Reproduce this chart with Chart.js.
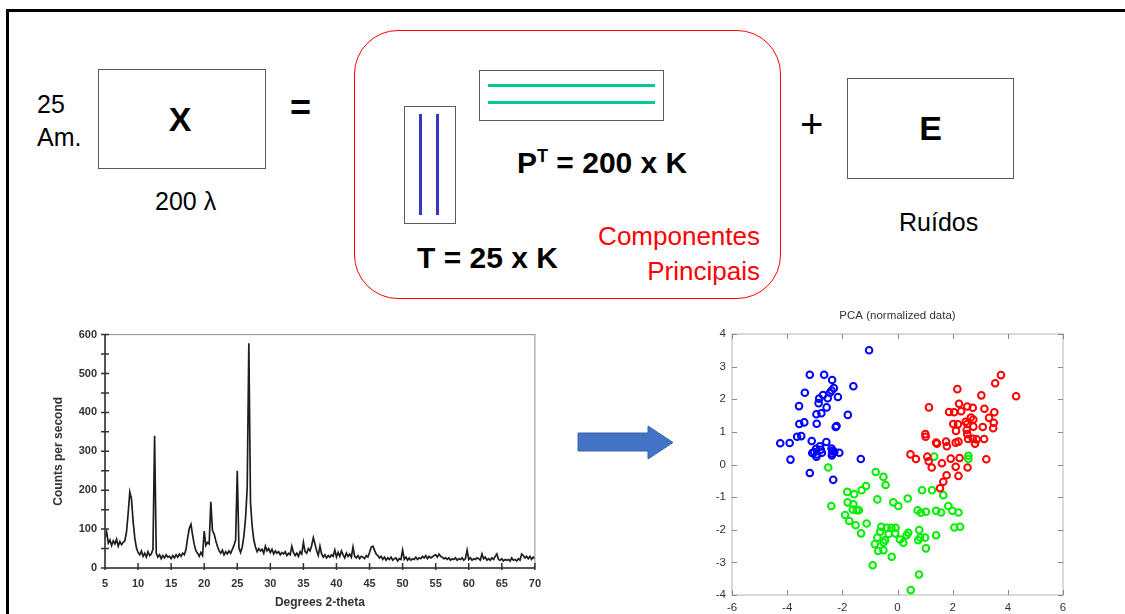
<!DOCTYPE html>
<html lang="pt">
<head>
<meta charset="utf-8">
<title>PCA - decomposição X = T·Pᵀ + E</title>
<script src="https://cdn.jsdelivr.net/npm/chart.js@4.4.1/dist/chart.umd.min.js"></script>
<style>
    html, body { margin: 0; padding: 0; background: #fff; }
    body { width: 1125px; height: 614px; position: relative; overflow: hidden; font-family: "Liberation Sans", Arial, sans-serif; color: #000; }
    .frame { position: absolute; left: 6px; top: 9px; width: 1200px; height: 700px; border-left: 3px solid #000; border-top: 3px solid #000; }
    .t { position: absolute; line-height: 1; white-space: nowrap; }
    .b { font-weight: bold; }
    .box { position: absolute; border: 1.5px solid #5a5a5a; box-sizing: border-box; display: flex; align-items: center; justify-content: center; }
    .pc { position: absolute; left: 354px; top: 30px; width: 427px; height: 269px; border: 1.6px solid #ff0000; border-radius: 44px; box-sizing: border-box; }
    .bar { position: absolute; }
    .sup { font-size: 18px; position: relative; top: -11px; }
    .red { color: #ff0000; }
    canvas { position: absolute; }
</style>
</head>
<body>
<div class="frame"></div>

<!-- X = T . P' + E -->
<div class="t" style="left:37px;top:92px;font-size:25px">25</div>
<div class="t" style="left:37px;top:125px;font-size:25px">Am.</div>
<div class="box" style="left:98px;top:69px;width:168px;height:100px"><span class="b" style="font-size:34px;margin-left:-4px">X</span></div>
<div class="t" style="left:155px;top:189px;font-size:25px">200 λ</div>
<div class="t b" style="left:290px;top:90px;font-size:36px">=</div>

<div class="pc"></div>
<div class="box" style="left:404px;top:106px;width:52px;height:118px"></div>
<div class="bar" style="left:419px;top:114px;width:3px;height:101px;background:#3535c8"></div>
<div class="bar" style="left:436px;top:114px;width:3px;height:101px;background:#3535c8"></div>
<div class="box" style="left:479px;top:70px;width:185px;height:51px"></div>
<div class="bar" style="left:488px;top:84px;width:167px;height:3px;background:#00c896"></div>
<div class="bar" style="left:488px;top:101px;width:167px;height:3px;background:#00c896"></div>
<div class="t b" style="left:517px;top:148px;font-size:30px">P<span class="sup">T</span> = 200 x K</div>
<div class="t b" style="left:417px;top:243px;font-size:30px">T = 25 x K</div>
<div class="t red" style="right:365px;top:223px;font-size:26px;text-align:right">Componentes</div>
<div class="t red" style="right:365px;top:258px;font-size:26px;text-align:right">Principais</div>

<div class="t" style="left:800px;top:104px;font-size:40px">+</div>
<div class="box" style="left:847px;top:78px;width:167px;height:101px"><span class="b" style="font-size:34px">E</span></div>
<div class="t" style="left:899px;top:210px;font-size:25px">Ruídos</div>

<svg width="1125" height="614" style="position:absolute;left:0;top:0">
    <polygon points="578,433 648,433 648,426 673,442.5 648,459 648,451 578,451" fill="#4472c4" stroke="#3a62a8" stroke-width="1"/>
</svg>

<canvas id="xrd" width="530" height="294" style="left:20px;top:320px"></canvas>
<canvas id="pca" width="435" height="314" style="left:690px;top:300px"></canvas>

<script>
"use strict";

// ===========================
// Data: XRD pattern (counts per second, every 0.25 deg from 5 to 70)
// ===========================
const angleStart = 5;
const angleStep = 0.25;
const counts = [
    78, 92, 64, 72,     58, 70, 62, 74,     56, 68, 60, 66,     70, 92, 140, 195,   // 5-8
    178, 120, 78, 52,   40, 34, 44, 30,     38, 28, 42, 32,     36, 48, 340, 38,    // 9-12
    28, 34, 24, 32,     26, 34, 28, 30,     24, 32, 26, 34,     28, 36, 30, 38,     // 13-16
    34, 48, 78, 102,    112, 84, 60, 44,    38, 30, 40, 32,     95, 58, 66, 62,     // 17-20
    170, 96, 88, 70,    56, 44, 38, 46,     34, 42, 36, 44,     38, 48, 58, 72,     // 21-24
    250, 52, 40, 54,    82, 128, 205, 578,  168, 108, 72, 54,   42, 50, 44, 48,     // 25-28
    38, 56, 44, 50,     40, 48, 36, 44,     38, 42, 34, 40,     36, 42, 32, 38,     // 29-32
    34, 56, 40, 32,     38, 30, 42, 36,     66, 42, 38, 50,     44, 58, 78, 62,     // 33-36
    44, 32, 56, 36,     28, 34, 26, 32,     28, 34, 30, 46,     28, 40, 30, 44,     // 37-40
    34, 26, 38, 30,     36, 28, 54, 30,     26, 32, 24, 30,     28, 24, 32, 28,     // 41-44
    40, 54, 56, 46,     36, 32, 26, 30,     22, 28, 20, 26,     22, 28, 20, 24,     // 45-48
    26, 18, 24, 22,     46, 22, 28, 20,     26, 20, 24, 22,     28, 22, 26, 24,     // 49-52
    30, 26, 32, 24,     30, 26, 28, 32,     34, 28, 36, 30,     28, 24, 26, 22,     // 53-56
    26, 20, 24, 22,     26, 20, 24, 22,     26, 20, 24, 46,     22, 26, 20, 24,     // 57-60
    22, 26, 24, 20,     36, 24, 28, 20,     24, 20, 26, 22,     30, 36, 22, 20,     // 61-64
    24, 18, 22, 20,     22, 18, 26, 20,     22, 18, 24, 20,     36, 32, 26, 30,     // 65-68
    24, 30, 22, 28,     24                                                          // 69-70
];

// ===========================
// Data: PCA scores (PC1, PC2) per class
// ===========================
const blueScores = [
    [-1.03, 3.50], [-3.18, 2.75], [-2.66, 2.75], [-2.37, 2.59], [-2.31, 2.34], [-2.39, 2.27],
    [-2.45, 2.20], [-1.60, 2.40], [-3.36, 2.20], [-2.70, 2.13], [-2.84, 2.02], [-2.53, 2.03],
    [-2.16, 2.07], [-2.86, 1.88], [-3.57, 1.79], [-2.57, 1.75], [-2.94, 1.54], [-2.76, 1.57],
    [-1.80, 1.52], [-3.56, 1.24], [-3.38, 1.29], [-2.93, 1.25], [-2.21, 1.18], [-2.24, 1.15],
    [-3.64, 0.85], [-3.49, 0.87], [-4.25, 0.65], [-3.91, 0.66], [-3.11, 0.72], [-2.58, 0.69],
    [-2.81, 0.56], [-2.95, 0.48], [-2.39, 0.49], [-2.36, 0.42], [-3.09, 0.35], [-2.92, 0.31],
    [-2.74, 0.36], [-2.36, 0.34], [-2.11, 0.36], [-2.29, 0.39], [-2.94, 0.24], [-2.38, 0.28],
    [-3.88, 0.15], [-1.33, 0.17], [-3.18, -0.26], [-2.33, -0.47], [-2.78, 0.45], [-3.02, 0.38]
];
const redScores = [
    [3.75, 2.74], [3.54, 2.49], [2.17, 2.31], [4.30, 2.09], [3.04, 2.12], [1.14, 1.75],
    [2.23, 1.86], [2.53, 1.78], [2.73, 1.74], [2.31, 1.63], [1.87, 1.61], [2.05, 1.60],
    [3.15, 1.71], [3.51, 1.60], [2.66, 1.44], [2.75, 1.38], [3.32, 1.43], [3.49, 1.28],
    [2.02, 1.24], [2.19, 1.23], [2.47, 1.31], [2.53, 1.24], [2.75, 1.16], [3.09, 1.15],
    [3.47, 1.11], [2.12, 1.03], [2.51, 1.06], [1.01, 0.93], [1.02, 0.85], [2.53, 0.93],
    [2.56, 0.78], [2.73, 0.79], [2.87, 0.77], [3.14, 0.78], [2.81, 0.64], [1.40, 0.67],
    [1.43, 0.64], [1.76, 0.70], [1.79, 0.56], [2.11, 0.67], [2.21, 0.70], [0.47, 0.31],
    [0.67, 0.17], [1.08, 0.24], [1.13, 0.10], [1.24, -0.09], [1.61, 0.04], [1.93, 0.18],
    [2.25, 0.20], [2.54, -0.09], [2.11, -0.07], [3.22, 0.16], [1.78, -0.33], [2.21, -0.35],
    [1.66, -0.53], [1.54, -0.73]
];
const greenScores = [
    [-2.51, -0.09], [-0.79, -0.23], [-0.51, -0.38], [-0.43, -0.63], [-1.82, -0.84], [-1.57, -0.91],
    [-1.30, -0.79], [-1.14, -0.66], [-0.73, -1.07], [-2.40, -1.27], [-1.81, -1.16], [-1.60, -1.22],
    [-1.62, -1.38], [-1.48, -1.40], [-1.40, -1.40], [-0.15, -1.16], [0.03, -1.27], [0.37, -1.04],
    [0.89, -0.79], [1.25, -0.79], [1.66, -0.94], [-1.90, -1.55], [-1.75, -1.73], [-1.52, -1.86],
    [-1.12, -1.81], [-1.32, -2.11], [-0.59, -1.91], [-0.39, -1.94], [-0.22, -1.94], [-0.07, -1.94],
    [-0.63, -2.06], [-0.32, -2.13], [-0.08, -2.11], [0.39, -2.09], [0.33, -2.17], [-0.73, -2.24],
    [-0.45, -2.32], [-0.51, -2.39], [-0.82, -2.44], [0.21, -2.40], [0.09, -2.30], [-0.70, -2.65],
    [-0.51, -2.63], [-0.21, -2.83], [-0.90, -3.09], [0.79, -2.01], [0.82, -2.24], [1.00, -2.24],
    [0.75, -2.32], [1.03, -2.57], [1.40, -2.17], [0.73, -1.40], [0.85, -1.48], [1.03, -1.45],
    [1.40, -1.42], [1.58, -1.47], [1.84, -1.27], [1.99, -1.42], [2.21, -1.47], [2.06, -1.93],
    [2.27, -1.91], [0.78, -3.37], [0.48, -3.85], [1.33, 0.24], [2.57, 0.27], [2.57, 0.17]
];

// ===========================
// Shared helpers
// ===========================
const sans = "'Liberation Sans', Arial, sans-serif";
const toPoints = (pairs) => pairs.map(([x, y]) => ({ x, y }));

// ===========================
// XRD chart (frame + ticks crossing the axes)
// ===========================
const xrdFrame = {
    id: "xrdFrame",
    afterDraw(chart) {
        const { ctx, chartArea: a, scales } = chart;
        ctx.save();
        ctx.strokeStyle = "#8c8c8c";
        ctx.lineWidth = 1;
        ctx.strokeRect(a.left, a.top, a.right - a.left, a.bottom - a.top);
        ctx.strokeStyle = "#333";
        ctx.lineWidth = 1.5;
        ctx.beginPath();
        ctx.moveTo(a.left, a.top);
        ctx.lineTo(a.left, a.bottom);
        ctx.lineTo(a.right, a.bottom);
        scales.y.ticks.forEach((t) => {
            const py = scales.y.getPixelForValue(t.value);
            ctx.moveTo(a.left - 4, py);
            ctx.lineTo(a.left + 4, py);
        });
        scales.x.ticks.forEach((t) => {
            const px = scales.x.getPixelForValue(t.value);
            ctx.moveTo(px, a.bottom + 2);
            ctx.lineTo(px, a.bottom - 5);
        });
        ctx.stroke();
        ctx.restore();
    },
};

new Chart(document.getElementById("xrd"), {
    type: "line",
    data: {
        datasets: [{
            data: counts.map((c, i) => ({ x: angleStart + i * angleStep, y: c })),
            borderColor: "#1e1e1e",
            borderWidth: 1.7,
            pointRadius: 0,
            tension: 0,
        }],
    },
    options: {
        responsive: false,
        animation: false,
        devicePixelRatio: 1,
        layout: { padding: { left: 30, top: 10, right: 14, bottom: 0 } },
        plugins: { legend: { display: false }, tooltip: { enabled: false } },
        scales: {
            x: {
                type: "linear", min: 5, max: 70,
                afterFit: (s) => { s.height = 46; },
                grid: { display: false, drawTicks: false },
                border: { display: false },
                ticks: { stepSize: 5, padding: 9, color: "#333", font: { family: sans, size: 11, weight: "bold" } },
                title: { display: true, text: "Degrees 2-theta", color: "#333", padding: { top: 0, bottom: 4 }, font: { family: sans, size: 12, weight: "bold" } },
            },
            y: {
                min: 0, max: 600,
                afterFit: (s) => { s.width = 55; },
                grid: { display: false, drawTicks: false },
                border: { display: false },
                ticks: {
                    stepSize: 50, padding: 8, color: "#333",
                    font: { family: sans, size: 11, weight: "bold" },
                    callback: (v) => (v % 100 === 0 ? v : ""),
                },
                title: { display: true, text: "Counts per second", color: "#333", padding: { top: 1, bottom: 0 }, font: { family: sans, size: 12, weight: "bold" } },
            },
        },
    },
    plugins: [xrdFrame],
});

// ===========================
// PCA scatter (gnuplot-like box, inward ticks, title)
// ===========================
const pcaFrame = {
    id: "pcaFrame",
    afterDraw(chart) {
        const { ctx, chartArea: a, scales } = chart;
        ctx.save();
        ctx.strokeStyle = "#b4b4b4";
        ctx.lineWidth = 1;
        ctx.strokeRect(a.left, a.top, a.right - a.left, a.bottom - a.top);
        ctx.strokeStyle = "#8a8a8a";
        ctx.beginPath();
        scales.x.ticks.forEach((t) => {
            const px = Math.round(scales.x.getPixelForValue(t.value)) + 0.5;
            ctx.moveTo(px, a.bottom); ctx.lineTo(px, a.bottom - 5);
            ctx.moveTo(px, a.top); ctx.lineTo(px, a.top + 5);
        });
        scales.y.ticks.forEach((t) => {
            const py = Math.round(scales.y.getPixelForValue(t.value)) + 0.5;
            ctx.moveTo(a.left, py); ctx.lineTo(a.left + 5, py);
            ctx.moveTo(a.right, py); ctx.lineTo(a.right - 5, py);
        });
        ctx.stroke();
        ctx.fillStyle = "#333";
        ctx.font = "11.5px " + sans;
        ctx.textAlign = "center";
        ctx.textBaseline = "middle";
        ctx.fillText("PCA (normalized data)", (a.left + a.right) / 2, a.top - 18);
        ctx.restore();
    },
};

const ring = (pairs, color) => ({
    data: toPoints(pairs),
    pointStyle: "circle",
    pointRadius: 3.3,
    pointBorderWidth: 2,
    pointBackgroundColor: "rgba(0,0,0,0)",
    pointBorderColor: color,
    showLine: false,
});

new Chart(document.getElementById("pca"), {
    type: "scatter",
    data: {
        datasets: [
            ring(blueScores, "#0000ff"),
            ring(redScores, "#ff0000"),
            ring(greenScores, "#00ee00"),
        ],
    },
    options: {
        responsive: false,
        animation: false,
        devicePixelRatio: 1,
        layout: { padding: { left: 0, top: 34, right: 62, bottom: 0 } },
        plugins: { legend: { display: false }, tooltip: { enabled: false } },
        scales: {
            x: {
                min: -6, max: 6,
                afterFit: (s) => { s.height = 19; },
                grid: { display: false, drawTicks: false },
                border: { display: false },
                ticks: { stepSize: 2, padding: 6, color: "#333", font: { family: sans, size: 11.5 } },
            },
            y: {
                min: -4, max: 4,
                afterFit: (s) => { s.width = 42; },
                grid: { display: false, drawTicks: false },
                border: { display: false },
                ticks: { stepSize: 1, padding: 6, color: "#333", font: { family: sans, size: 11.5 } },
            },
        },
    },
    plugins: [pcaFrame],
});
</script>
</body>
</html>
